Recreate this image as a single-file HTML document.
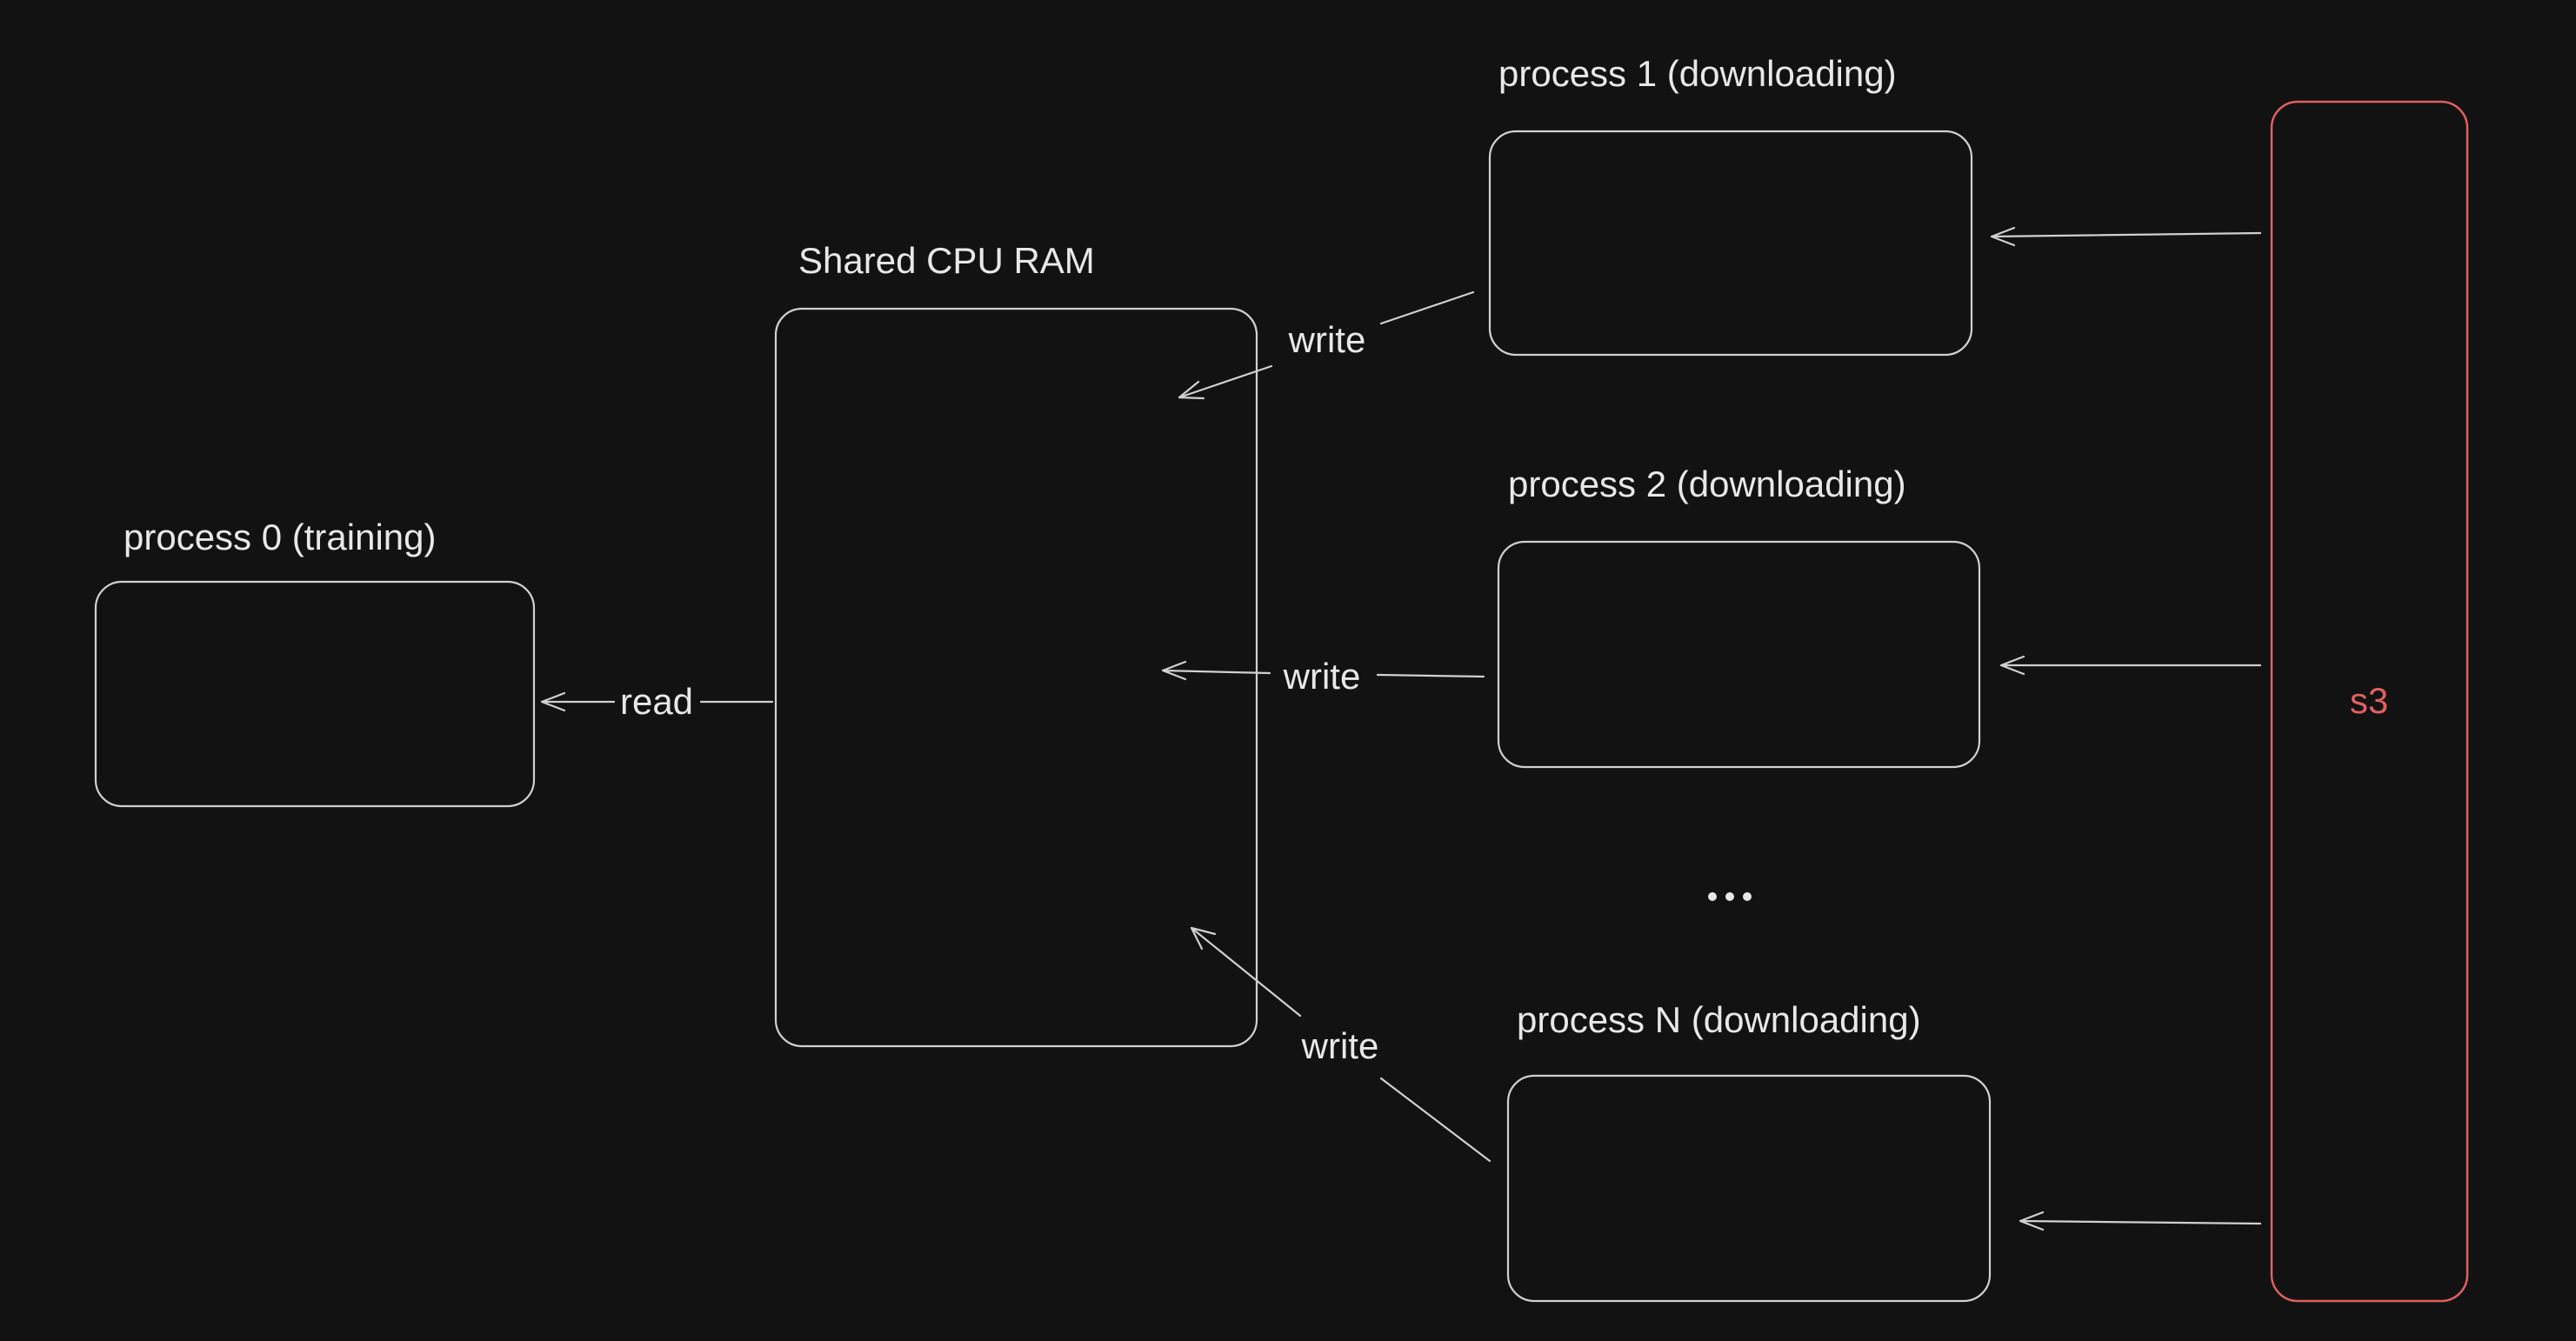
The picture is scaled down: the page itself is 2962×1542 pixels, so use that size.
<!DOCTYPE html>
<html><head><meta charset="utf-8"><style>
html,body{margin:0;padding:0;background:#121212;}
svg{display:block;}
text{font-family:"Liberation Sans",sans-serif;fill:#e8e8e8;font-size:42px;}
</style></head><body>
<svg width="2962" height="1542" viewBox="0 0 2962 1542" xmlns="http://www.w3.org/2000/svg">
<rect width="2962" height="1542" fill="#121212"/>
<g fill="none" stroke="#d0d0d0" stroke-width="2.2">
<rect x="110" y="669" width="504" height="258" rx="30"/>
<rect x="892" y="355" width="553" height="848" rx="30"/>
<rect x="1713" y="151" width="554" height="257" rx="30"/>
<rect x="1723" y="623" width="553" height="259" rx="30"/>
<rect x="1734" y="1237" width="554" height="259" rx="30"/>
</g>
<rect x="2612" y="117" width="225" height="1379" rx="30" fill="none" stroke="#e06060" stroke-width="2.5"/>
<g fill="none" stroke="#d0d0d0" stroke-width="2.2" stroke-linecap="round">
<path d="M2599 268 L2290 272 M2290 272 l26 -10 M2290 272 l26 10"/>
<path d="M2599 765 L2301 765 M2301 765 l26 -10 M2301 765 l26 10"/>
<path d="M2599 1407 L2323 1404 M2323 1404 l26 -10 M2323 1404 l26 10"/>
<path d="M888 807 L806 807 M706 807 L623 807 M623 807 l26 -10 M623 807 l26 10"/>
<path d="M1694 336 L1588 372 M1462 421 L1356 457 M1356 457 l22 -18 M1356 457 l28 1"/>
<path d="M1706 778 L1584 776 M1460 774 L1337 771 M1337 771 l26 -10 M1337 771 l26 10"/>
<path d="M1713 1335 L1588 1240 M1495 1168 L1370 1067 M1370 1067 l12 24 M1370 1067 l27 7"/>
</g>
<g fill="#e8e8e8">
<circle cx="1969" cy="1031" r="5"/><circle cx="1989" cy="1031" r="5"/><circle cx="2009" cy="1031" r="5"/>
</g>
<text x="142" y="632">process 0 (training)</text>
<text x="918" y="314">Shared CPU RAM</text>
<text x="1723" y="99">process 1 (downloading)</text>
<text x="1734" y="571">process 2 (downloading)</text>
<text x="1744" y="1187">process N (downloading)</text>
<text x="2724" y="820" text-anchor="middle" style="fill:#e06060">s3</text>
<text x="755" y="821" text-anchor="middle">read</text>
<text x="1526" y="405" text-anchor="middle">write</text>
<text x="1520" y="792" text-anchor="middle">write</text>
<text x="1541" y="1217" text-anchor="middle">write</text>
</svg>
</body></html>
